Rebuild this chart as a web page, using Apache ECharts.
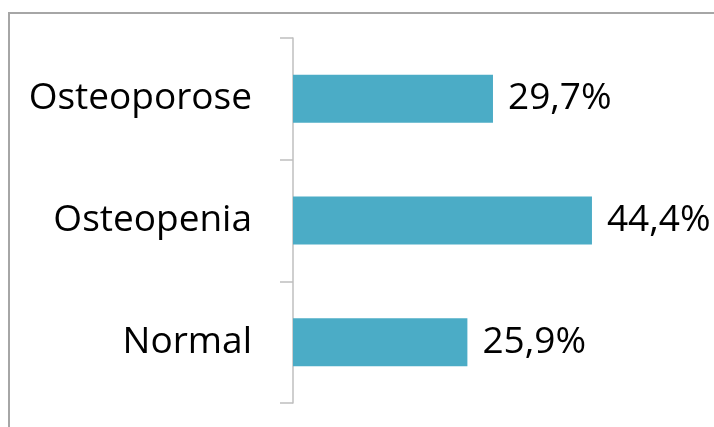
<!DOCTYPE html>
<html><head><meta charset="utf-8">
<script src="https://cdn.jsdelivr.net/npm/echarts@6/dist/echarts.min.js"></script>
<style>html,body{margin:0;padding:0;background:#fff}#c{width:714px;height:427px}</style>
</head><body><div id="c"></div>
<script>
const categories = ['Normal', 'Osteopenia', 'Osteoporose'];
const values = [25.9, 44.4, 29.7];
const chart = echarts.init(document.getElementById('c'));
const font = '"Open Sans", sans-serif';
chart.setOption({
  animation: false,
  graphic: [{type:'rect', shape:{x:9, y:13, width:800, height:600}, style:{fill:'none', stroke:'#a6a6a6', lineWidth:2}}],
  grid: {left: 293, top: 38, bottom: 24, width: 404},
  xAxis: {type:'value', min:0, max:60, show:false},
  yAxis: {type:'category', data: categories,
    axisLine:{lineStyle:{color:'#bfbfbf', width:1.5}},
    axisTick:{show:true, length:13, lineStyle:{color:'#bfbfbf', width:1.5}},
    axisLabel:{margin:41, color:'#000', fontSize:37, fontFamily:font}
  },
  series: [{type:'bar', data: values, barWidth: 48, itemStyle:{color:'#4bacc6'},
    label:{show:true, position:'right', distance:15, color:'#000', fontSize:37, fontFamily:font,
      formatter: p => p.value.toFixed(1).replace('.', ',') + '%'}}]
});
</script></body></html>
